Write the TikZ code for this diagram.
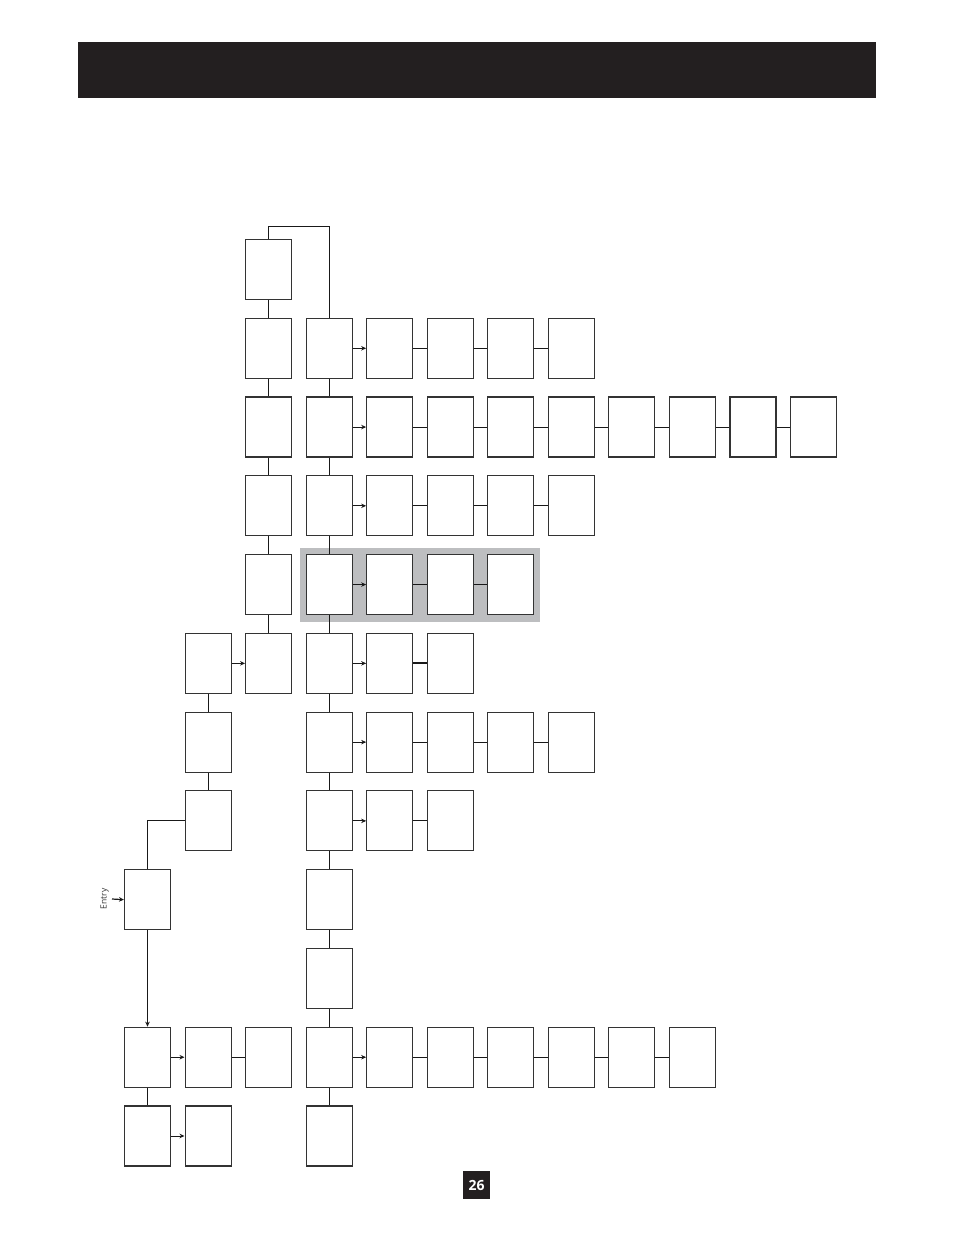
\documentclass[tikz,border=0pt]{standalone}
\usepackage{fontspec}
\setmainfont{Open Sans}
\usetikzlibrary{arrows.meta}
\definecolor{ink}{HTML}{231F20}
\definecolor{band}{HTML}{BDBEC0}
\begin{document}
\begin{tikzpicture}[x=1pt,y=-1pt,
  box/.style={draw=black!80, line width=1.1pt, minimum width=46pt, minimum height=60pt, inner sep=0pt, fill=white},
  conn/.style={line width=0.9pt, draw=black!90},
  arr/.style={conn, -{Stealth[length=5pt,width=4.5pt]}},
]
\useasboundingbox (0,0) rectangle (954,1235);
% header bar
\fill[ink] (78,42) rectangle (876,98);
% grey highlight band
\fill[band] (300,548) rectangle (540,622);
% boxes
\foreach \c/\r in {2/0,
  2/1,3/1,4/1,5/1,6/1,7/1,
  2/2,3/2,4/2,5/2,6/2,7/2,8/2,9/2,10/2,11/2,
  2/3,3/3,4/3,5/3,6/3,7/3,
  2/4,3/4,4/4,5/4,6/4,
  1/5,2/5,3/5,4/5,5/5,
  1/6,3/6,4/6,5/6,6/6,7/6,
  1/7,3/7,4/7,5/7,
  0/8,3/8,
  3/9,
  0/10,1/10,2/10,3/10,4/10,5/10,6/10,7/10,8/10,9/10,
  0/11,1/11,3/11}
  \node[box] (b-\c-\r) at ({147.5+60.55*\c},{269.5+78.77*\r}) {};
% vertical connectors
\foreach \r in {0,...,4} {\pgfmathtruncatemacro{\n}{\r+1}\draw[conn] (b-2-\r.south) -- (b-2-\n.north);}
\foreach \r in {1,...,10} {\pgfmathtruncatemacro{\n}{\r+1}\draw[conn] (b-3-\r.south) -- (b-3-\n.north);}
\draw[conn] (b-1-5.south) -- (b-1-6.north);
\draw[conn] (b-1-6.south) -- (b-1-7.north);
\draw[conn] (b-0-10.south) -- (b-0-11.north);
% top loop
\draw[conn] (b-2-0.north) -- ++(0,-13) -| (b-3-1.north);
% left path to entry box
\draw[conn] (b-1-7.west) -| (b-0-8.north);
\draw[arr] (b-0-8.south) -- (b-0-10.north);
% horizontal arrows
\foreach \r in {1,2,3,4,5,6,7,10} \draw[arr] (b-3-\r.east) -- (b-4-\r.west);
\draw[arr] (b-1-5.east) -- (b-2-5.west);
\draw[arr] (b-0-10.east) -- (b-1-10.west);
\draw[arr] (b-0-11.east) -- (b-1-11.west);
% horizontal plain lines
\foreach \a/\r in {4/1,5/1,6/1,
  4/2,5/2,6/2,7/2,8/2,9/2,10/2,
  4/3,5/3,6/3,
  4/4,5/4,
  4/6,5/6,6/6,
  4/7,
  1/10,4/10,5/10,6/10,7/10,8/10}
  {\pgfmathtruncatemacro{\n}{\a+1}\draw[conn] (b-\a-\r.east) -- (b-\n-\r.west);}
\draw[conn, line width=2pt] (b-4-5.east) -- (b-5-5.west);
% entry
\node[rotate=90, font=\fontsize{8.5}{9}\selectfont, text=black!80, inner sep=0pt] (entry) at (104.5,899) {Entry};
\coordinate (entryin) at (112,899);
\draw[arr, line width=1.2pt] (entryin) -- (b-0-8.west);
% page number
\node[fill=ink, text=white, minimum width=27pt, minimum height=28pt, inner sep=0pt, font=\fontsize{14}{15}\selectfont\bfseries] (page) at (476.5,1185) {26};
\end{tikzpicture}
\end{document}
